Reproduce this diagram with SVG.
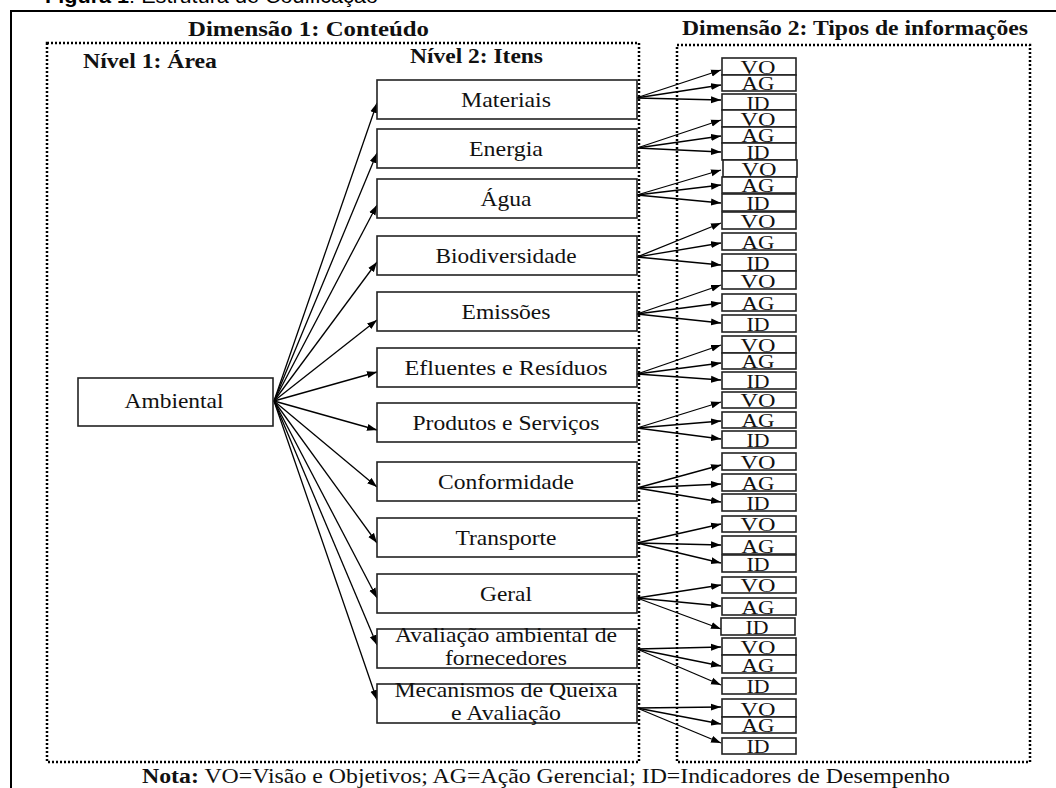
<svg xmlns="http://www.w3.org/2000/svg" width="1056" height="788" viewBox="0 0 1056 788">
<defs>
<marker id="ah" markerUnits="userSpaceOnUse" markerWidth="10" markerHeight="8" refX="10" refY="4" orient="auto">
<path d="M0,0.5 L10,4 L0,7.5 z" fill="#000"/>
</marker>
<style>
.frame{fill:none;stroke:#000;stroke-width:2}
.dot{fill:none;stroke:#000;stroke-width:2.5;stroke-dasharray:2 2}
.box{fill:#fff;stroke:#222;stroke-width:1.6}
.tb{fill:#fff;stroke:#222;stroke-width:1.6}
.lbl{font-family:"Liberation Serif","Times New Roman",serif;font-size:22px;fill:#111;text-anchor:middle}
.tl{font-family:"Liberation Serif","Times New Roman",serif;font-size:19.5px;fill:#111;text-anchor:middle}
.ttl{font-family:"Liberation Serif","Times New Roman",serif;font-size:22px;font-weight:bold;fill:#111}
.note{font-family:"Liberation Serif","Times New Roman",serif;font-size:20px;fill:#111}
.cap{font-family:"Liberation Sans",Arial,sans-serif;font-size:20px;fill:#000}
.con line{stroke:#000;stroke-width:1.3;marker-end:url(#ah)}
</style>
</defs>
<rect width="1056" height="788" fill="#fff"/>
<text class="cap" x="45" y="3" textLength="333" lengthAdjust="spacingAndGlyphs"><tspan font-weight="bold">Figura 1</tspan>: Estrutura de Codificação</text>
<rect class="frame" x="11" y="11" width="1100" height="900"/>
<rect class="dot" x="47" y="43" width="592" height="719"/>
<rect class="dot" x="677" y="45" width="353" height="717"/>
<text class="ttl" x="188" y="36" textLength="241" lengthAdjust="spacingAndGlyphs">Dimensão 1: Conteúdo</text>
<text class="ttl" x="682" y="35" textLength="346" lengthAdjust="spacingAndGlyphs">Dimensão 2: Tipos de informações</text>
<text class="ttl" x="83" y="68" textLength="134" lengthAdjust="spacingAndGlyphs">Nível 1: Área</text>
<text class="ttl" x="410" y="63" textLength="133" lengthAdjust="spacingAndGlyphs">Nível 2: Itens</text>

<g class="con" id="connectors">
<line x1="274" y1="401" x2="377" y2="103"/>
<line x1="274" y1="401" x2="377" y2="153"/>
<line x1="274" y1="401" x2="377" y2="205"/>
<line x1="274" y1="401" x2="377" y2="262"/>
<line x1="274" y1="401" x2="377" y2="320"/>
<line x1="274" y1="401" x2="377" y2="372"/>
<line x1="274" y1="401" x2="377" y2="430"/>
<line x1="274" y1="401" x2="377" y2="487"/>
<line x1="274" y1="401" x2="377" y2="543"/>
<line x1="274" y1="401" x2="377" y2="598"/>
<line x1="274" y1="401" x2="377" y2="645"/>
<line x1="274" y1="401" x2="377" y2="700"/>
<line x1="636" y1="98" x2="721" y2="70"/><line x1="636" y1="98" x2="721" y2="85"/><line x1="636" y1="98" x2="721" y2="100"/>
<line x1="637" y1="148" x2="721" y2="120"/><line x1="637" y1="148" x2="721" y2="136"/><line x1="637" y1="148" x2="721" y2="152"/>
<line x1="637" y1="195" x2="721" y2="170"/><line x1="637" y1="195" x2="721" y2="185"/><line x1="637" y1="195" x2="721" y2="203"/>
<line x1="637" y1="257" x2="721" y2="223"/><line x1="637" y1="257" x2="721" y2="243"/><line x1="637" y1="257" x2="721" y2="265"/>
<line x1="637" y1="314" x2="721" y2="285"/><line x1="637" y1="314" x2="721" y2="303"/><line x1="637" y1="314" x2="721" y2="323"/>
<line x1="637" y1="374" x2="721" y2="345"/><line x1="637" y1="374" x2="721" y2="363"/><line x1="637" y1="374" x2="721" y2="380"/>
<line x1="637" y1="428" x2="721" y2="402"/><line x1="637" y1="428" x2="721" y2="421"/><line x1="637" y1="428" x2="721" y2="439"/>
<line x1="637" y1="488" x2="721" y2="465"/><line x1="637" y1="488" x2="721" y2="484"/><line x1="637" y1="488" x2="721" y2="502"/>
<line x1="637" y1="543" x2="721" y2="524"/><line x1="637" y1="543" x2="721" y2="545"/><line x1="637" y1="543" x2="721" y2="563"/>
<line x1="637" y1="598" x2="721" y2="585"/><line x1="637" y1="598" x2="721" y2="606"/><line x1="637" y1="598" x2="721" y2="629"/>
<line x1="637" y1="649" x2="721" y2="647"/><line x1="637" y1="649" x2="721" y2="666"/><line x1="637" y1="649" x2="721" y2="685"/>
<line x1="637" y1="708" x2="721" y2="707"/><line x1="637" y1="708" x2="721" y2="724"/><line x1="637" y1="708" x2="721" y2="743"/>
</g>

<g id="ambiental"><rect class="box" x="78" y="378" width="195" height="48"/><text class="lbl" x="174" y="408" textLength="99" lengthAdjust="spacingAndGlyphs">Ambiental</text></g>

<g id="materiais"><rect class="box" x="377" y="80" width="260" height="39"/><text class="lbl" x="506" y="107" textLength="90" lengthAdjust="spacingAndGlyphs">Materiais</text></g>
<g id="energia"><rect class="box" x="377" y="129" width="260" height="39"/><text class="lbl" x="506" y="156" textLength="74" lengthAdjust="spacingAndGlyphs">Energia</text></g>
<g id="agua"><rect class="box" x="377" y="179" width="260" height="39"/><text class="lbl" x="506" y="206" textLength="51" lengthAdjust="spacingAndGlyphs">Água</text></g>
<g id="biodiversidade"><rect class="box" x="377" y="236" width="260" height="39"/><text class="lbl" x="506" y="263" textLength="141" lengthAdjust="spacingAndGlyphs">Biodiversidade</text></g>
<g id="emissoes"><rect class="box" x="377" y="292" width="260" height="39"/><text class="lbl" x="506" y="319" textLength="89" lengthAdjust="spacingAndGlyphs">Emissões</text></g>
<g id="efluentes"><rect class="box" x="377" y="348" width="260" height="39"/><text class="lbl" x="506" y="375" textLength="203" lengthAdjust="spacingAndGlyphs">Efluentes e Resíduos</text></g>
<g id="produtos"><rect class="box" x="377" y="403" width="260" height="39"/><text class="lbl" x="506" y="430" textLength="187" lengthAdjust="spacingAndGlyphs">Produtos e Serviços</text></g>
<g id="conformidade"><rect class="box" x="377" y="462" width="260" height="39"/><text class="lbl" x="506" y="489" textLength="136" lengthAdjust="spacingAndGlyphs">Conformidade</text></g>
<g id="transporte"><rect class="box" x="377" y="518" width="260" height="39"/><text class="lbl" x="506" y="545" textLength="101" lengthAdjust="spacingAndGlyphs">Transporte</text></g>
<g id="geral"><rect class="box" x="377" y="574" width="260" height="39"/><text class="lbl" x="506" y="601" textLength="52" lengthAdjust="spacingAndGlyphs">Geral</text></g>
<g id="avaliacao"><rect class="box" x="377" y="629" width="260" height="39"/><text class="lbl" x="506" y="642" textLength="222" lengthAdjust="spacingAndGlyphs">Avaliação ambiental de</text><text class="lbl" x="506" y="665" textLength="122" lengthAdjust="spacingAndGlyphs">fornecedores</text></g>
<g id="mecanismos"><rect class="box" x="377" y="684" width="260" height="39"/><text class="lbl" x="506" y="697" textLength="223" lengthAdjust="spacingAndGlyphs">Mecanismos de Queixa</text><text class="lbl" x="506" y="720" textLength="110" lengthAdjust="spacingAndGlyphs">e Avaliação</text></g>

<g id="t1"><rect class="tb" x="722" y="58" width="74" height="17"/><text class="tl" x="758" y="74" textLength="35" lengthAdjust="spacingAndGlyphs">VO</text><rect class="tb" x="722" y="75" width="74" height="16"/><text class="tl" x="758" y="90" textLength="33" lengthAdjust="spacingAndGlyphs">AG</text><rect class="tb" x="722" y="94" width="74" height="16"/><text class="tl" x="758" y="110" textLength="23" lengthAdjust="spacingAndGlyphs">ID</text></g>
<g id="t2"><rect class="tb" x="722" y="110" width="74" height="17"/><text class="tl" x="758" y="126" textLength="35" lengthAdjust="spacingAndGlyphs">VO</text><rect class="tb" x="722" y="127" width="74" height="16"/><text class="tl" x="758" y="142" textLength="33" lengthAdjust="spacingAndGlyphs">AG</text><rect class="tb" x="722" y="143" width="74" height="17"/><text class="tl" x="758" y="159" textLength="23" lengthAdjust="spacingAndGlyphs">ID</text></g>
<g id="t3"><rect class="tb" x="723" y="160" width="74" height="17"/><text class="tl" x="759" y="176" textLength="35" lengthAdjust="spacingAndGlyphs">VO</text><rect class="tb" x="722" y="177" width="74" height="16"/><text class="tl" x="758" y="192" textLength="33" lengthAdjust="spacingAndGlyphs">AG</text><rect class="tb" x="722" y="194" width="74" height="17"/><text class="tl" x="758" y="210" textLength="23" lengthAdjust="spacingAndGlyphs">ID</text></g>
<g id="t4"><rect class="tb" x="722" y="212" width="74" height="17"/><text class="tl" x="758" y="228" textLength="35" lengthAdjust="spacingAndGlyphs">VO</text><rect class="tb" x="722" y="233" width="74" height="17"/><text class="tl" x="758" y="249" textLength="33" lengthAdjust="spacingAndGlyphs">AG</text><rect class="tb" x="722" y="254" width="74" height="17"/><text class="tl" x="758" y="270" textLength="23" lengthAdjust="spacingAndGlyphs">ID</text></g>
<g id="t5"><rect class="tb" x="722" y="271" width="74" height="18"/><text class="tl" x="758" y="288" textLength="35" lengthAdjust="spacingAndGlyphs">VO</text><rect class="tb" x="722" y="294" width="74" height="17"/><text class="tl" x="758" y="310" textLength="33" lengthAdjust="spacingAndGlyphs">AG</text><rect class="tb" x="722" y="315" width="74" height="17"/><text class="tl" x="758" y="331" textLength="23" lengthAdjust="spacingAndGlyphs">ID</text></g>
<g id="t6"><rect class="tb" x="722" y="336" width="74" height="17"/><text class="tl" x="758" y="352" textLength="35" lengthAdjust="spacingAndGlyphs">VO</text><rect class="tb" x="722" y="353" width="74" height="16"/><text class="tl" x="758" y="368" textLength="33" lengthAdjust="spacingAndGlyphs">AG</text><rect class="tb" x="722" y="372" width="74" height="17"/><text class="tl" x="758" y="388" textLength="23" lengthAdjust="spacingAndGlyphs">ID</text></g>
<g id="t7"><rect class="tb" x="722" y="392" width="74" height="16"/><text class="tl" x="758" y="407" textLength="35" lengthAdjust="spacingAndGlyphs">VO</text><rect class="tb" x="722" y="412" width="74" height="16"/><text class="tl" x="758" y="427" textLength="33" lengthAdjust="spacingAndGlyphs">AG</text><rect class="tb" x="722" y="431" width="74" height="17"/><text class="tl" x="758" y="447" textLength="23" lengthAdjust="spacingAndGlyphs">ID</text></g>
<g id="t8"><rect class="tb" x="722" y="453" width="74" height="17"/><text class="tl" x="758" y="469" textLength="35" lengthAdjust="spacingAndGlyphs">VO</text><rect class="tb" x="722" y="474" width="74" height="17"/><text class="tl" x="758" y="490" textLength="33" lengthAdjust="spacingAndGlyphs">AG</text><rect class="tb" x="722" y="494" width="74" height="17"/><text class="tl" x="758" y="510" textLength="23" lengthAdjust="spacingAndGlyphs">ID</text></g>
<g id="t9"><rect class="tb" x="722" y="516" width="74" height="16"/><text class="tl" x="758" y="531" textLength="35" lengthAdjust="spacingAndGlyphs">VO</text><rect class="tb" x="722" y="536" width="74" height="18"/><text class="tl" x="758" y="553" textLength="33" lengthAdjust="spacingAndGlyphs">AG</text><rect class="tb" x="722" y="555" width="74" height="17"/><text class="tl" x="758" y="571" textLength="23" lengthAdjust="spacingAndGlyphs">ID</text></g>
<g id="t10"><rect class="tb" x="722" y="577" width="74" height="16"/><text class="tl" x="758" y="592" textLength="35" lengthAdjust="spacingAndGlyphs">VO</text><rect class="tb" x="722" y="598" width="74" height="17"/><text class="tl" x="758" y="614" textLength="33" lengthAdjust="spacingAndGlyphs">AG</text><rect class="tb" x="721" y="618" width="74" height="17"/><text class="tl" x="757" y="634" textLength="23" lengthAdjust="spacingAndGlyphs">ID</text></g>
<g id="t11"><rect class="tb" x="722" y="638" width="74" height="17"/><text class="tl" x="758" y="654" textLength="35" lengthAdjust="spacingAndGlyphs">VO</text><rect class="tb" x="722" y="655" width="74" height="18"/><text class="tl" x="758" y="672" textLength="33" lengthAdjust="spacingAndGlyphs">AG</text><rect class="tb" x="722" y="678" width="74" height="16"/><text class="tl" x="758" y="693" textLength="23" lengthAdjust="spacingAndGlyphs">ID</text></g>
<g id="t12"><rect class="tb" x="722" y="699" width="74" height="18"/><text class="tl" x="758" y="716" textLength="35" lengthAdjust="spacingAndGlyphs">VO</text><rect class="tb" x="722" y="717" width="74" height="16"/><text class="tl" x="758" y="732" textLength="33" lengthAdjust="spacingAndGlyphs">AG</text><rect class="tb" x="722" y="738" width="74" height="16"/><text class="tl" x="758" y="753" textLength="23" lengthAdjust="spacingAndGlyphs">ID</text></g>

<text class="note" x="142" y="783" textLength="808" lengthAdjust="spacingAndGlyphs"><tspan font-weight="bold">Nota:</tspan> VO=Visão e Objetivos; AG=Ação Gerencial; ID=Indicadores de Desempenho</text>
</svg>
